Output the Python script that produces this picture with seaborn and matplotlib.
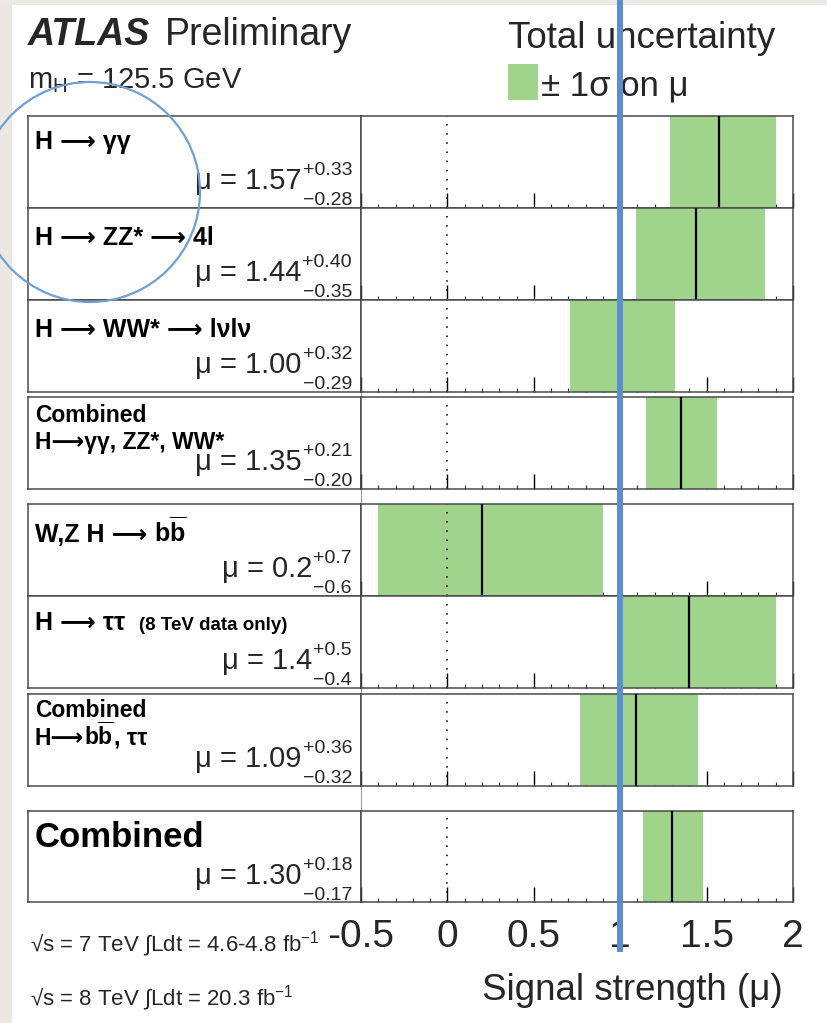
import numpy as np
import pandas as pd
import seaborn as sns
import matplotlib
matplotlib.use("Agg")
import matplotlib.pyplot as plt
from matplotlib.lines import Line2D
from matplotlib.patches import Rectangle, Circle

# ---- measurements: signal strength per channel ----
channels = ["H → γγ", "H → ZZ* → 4l", "H → WW* → lνlν", "Combined γγ ZZ WW",
            "W,Z H → bb", "H → ττ", "Combined bb ττ", "Combined"]
mu_val = [1.57, 1.44, 1.00, 1.35, 0.2, 1.4, 1.09, 1.30]
err_up = [0.33, 0.40, 0.32, 0.21, 0.7, 0.5, 0.36, 0.18]
err_dn = [0.28, 0.35, 0.29, 0.20, 0.6, 0.4, 0.32, 0.17]
n_dec = [2, 2, 2, 2, 1, 1, 2, 2]
xtick_vals = [-0.5, 0.0, 0.5, 1.0, 1.5, 2.0]
xtick_labels = ["-0.5", "0", "0.5", "1", "1.5", "2"]

sns.set_theme(style="white")
plt.rcParams["font.family"] = ["Liberation Sans", "DejaVu Sans"]
plt.rcParams["mathtext.fontset"] = "custom"
plt.rcParams["mathtext.rm"] = "Liberation Sans"
plt.rcParams["mathtext.bf"] = "Liberation Sans:bold"
plt.rcParams["mathtext.it"] = "Liberation Sans:italic"
plt.rcParams["mathtext.sf"] = "Liberation Sans"

W, H = 827, 1023
fig = plt.figure(figsize=(W / 100, H / 100), dpi=100, facecolor="white")
A = "⟶"
BBBAR = r"$\mathbf{b}\overline{\mathbf{b}}$"


def fx(px):
    return px / W


def fy(py):
    return 1 - py / H


renderer = fig.canvas.get_renderer()


def chain_text(x_px, y_px, parts, **kw):
    """Draw consecutive text pieces left to right on one baseline."""
    x = x_px
    for part in parts:
        t = fig.text(fx(x), fy(y_px), part, ha="left", va="baseline", **kw)
        x = t.get_window_extent(renderer).x1
    return x


# page edges
fig.add_artist(Rectangle((0, 0), fx(12), 1, transform=fig.transFigure,
                         color="#ebe8e2", lw=0, zorder=0))
fig.add_artist(Rectangle((0, fy(5)), 1, 1 - fy(5), transform=fig.transFigure,
                         color="#ebe9e5", lw=0, zorder=0))

BOX_L, SPLIT, PLOT_R = 28, 361, 793
panel_top = [116, 208, 300, 397, 504, 596, 694, 811]
panel_h = 92
SPINE = "#4a4a4a"
GREEN = "#a0d48c"

plot_axes = []
for i in range(len(mu_val)):
    top = panel_top[i]
    bot = top + panel_h if i < 7 else 902
    tax = fig.add_axes([fx(BOX_L), fy(bot), fx(SPLIT - BOX_L), (bot - top) / H])
    tax.set_xticks([]); tax.set_yticks([])
    for s in tax.spines.values():
        s.set_color(SPINE); s.set_linewidth(1.1)
    pax = fig.add_axes([fx(SPLIT), fy(bot), fx(PLOT_R - SPLIT), (bot - top) / H])
    for s in pax.spines.values():
        s.set_color(SPINE); s.set_linewidth(1.1)
    pax.set_facecolor("white")

    lo, hi = mu_val[i] - err_dn[i], mu_val[i] + err_up[i]
    pax.fill_betweenx([0, 1], lo, hi, color=GREEN, lw=0, zorder=1)
    line_df = pd.DataFrame({"mu": [mu_val[i], mu_val[i]], "y": [0.0, 1.0]})
    sns.lineplot(data=line_df, x="mu", y="y", orient="y", estimator=None,
                 color="black", lw=1.6, ax=pax, zorder=3)
    pax.axvline(0, color="black", lw=1.1, ls=(0, (1, 5)), zorder=2)
    pax.axvline(1, color="black", lw=1.1, ls=(0, (1, 5)), zorder=2)

    pax.set_xlim(-0.5, 2.0)
    pax.set_ylim(0, 1)
    pax.set_yticks([])
    pax.set_xticks(xtick_vals)
    pax.set_xticks(np.arange(-0.5, 2.001, 0.1), minor=True)
    pax.tick_params(axis="x", which="major", direction="in", length=11,
                    width=1.0, color="black", bottom=True, top=False)
    pax.tick_params(axis="x", which="minor", direction="in", length=3,
                    width=0.8, color="#333333", bottom=True, top=False)
    for t in pax.xaxis.get_major_ticks():
        if abs(t.get_loc() - 0.5) < 1e-9:
            t.tick1line.set_color("#b0b0b0")
    pax.set_xlabel(""); pax.set_ylabel("")
    if i == 7:
        pax.set_xticklabels(xtick_labels, fontsize=28)
        pax.tick_params(axis="x", which="major", pad=12)
    else:
        pax.set_xticklabels([])
    plot_axes.append(pax)

# faint divider between text boxes and plots
fig.add_artist(Line2D([fx(SPLIT), fx(SPLIT)], [fy(116), fy(902)],
                      transform=fig.transFigure, color="#9a9a9a", lw=0.8, zorder=0))

# ---- channel titles ----
TX = 35
bold = dict(fontweight="bold", color="black")
chain_text(TX, 116 + 33, [f"H {A} γγ"], fontsize=18, **bold)
chain_text(TX, 208 + 37, [f"H {A} ZZ* {A} 4l"], fontsize=18, **bold)
chain_text(TX, 300 + 37, [f"H {A} WW* {A} lνlν"], fontsize=18, **bold)
chain_text(TX, 397 + 25, ["Combined"], fontsize=16.5, **bold)
chain_text(TX, 397 + 52, [f"H{A}γγ, ZZ*, WW*"], fontsize=16.5, **bold)
chain_text(TX, 504 + 38, [f"W,Z H {A} ", BBBAR], fontsize=18, **bold)
x_tau = chain_text(TX, 596 + 34, [f"H {A} ττ"], fontsize=18, **bold)
chain_text(x_tau + 14, 596 + 34, ["(8 TeV data only)"], fontsize=13.5, **bold)
chain_text(TX, 694 + 23, ["Combined"], fontsize=16.5, **bold)
chain_text(TX, 694 + 51, [f"H{A}", BBBAR, ", ττ"], fontsize=16.5, **bold)
chain_text(TX, 811 + 36, ["Combined"], fontsize=25, **bold)

# ---- mu = value (+up / -down) ----
SUP_R = 352
for i in range(len(mu_val)):
    top = panel_top[i]
    up = fig.text(fx(SUP_R), fy(top + 59), f"+{err_up[i]:.{n_dec[i]}f}",
                  fontsize=14, ha="right", va="baseline")
    dn = fig.text(fx(SUP_R), fy(top + 89), f"−{err_dn[i]:.{n_dec[i]}f}",
                  fontsize=14, ha="right", va="baseline")
    left_px = min(up.get_window_extent(renderer).x0, dn.get_window_extent(renderer).x0)
    fig.text(left_px / W - fx(1), fy(top + 73),
             f"μ = {mu_val[i]:.{n_dec[i]}f}", fontsize=21, ha="right", va="baseline")

# ---- header ----
fig.text(fx(28), fy(45), "ATLAS", fontsize=27, fontweight="bold", fontstyle="italic",
         ha="left", va="baseline")
fig.text(fx(165), fy(45), "Preliminary", fontsize=27, ha="left", va="baseline")
fig.text(fx(28), fy(88), r"m$_{\mathregular{H}}$ = 125.5 GeV", fontsize=21,
         ha="left", va="baseline")
fig.text(fx(508), fy(48), "Total uncertainty", fontsize=26.5, ha="left", va="baseline")
fig.add_artist(Rectangle((fx(508), fy(100)), fx(30), 36 / H, transform=fig.transFigure,
                         color=GREEN, lw=0))
fig.text(fx(541), fy(96), "± 1σ on μ", fontsize=25, ha="left", va="baseline")

# ---- footer ----
fig.text(fx(30), fy(951), r"√s = 7 TeV ∫Ldt = 4.6-4.8 fb$^{\mathregular{-1}}$",
         fontsize=16, ha="left", va="baseline")
fig.text(fx(30), fy(1005), r"√s = 8 TeV ∫Ldt = 20.3 fb$^{\mathregular{-1}}$",
         fontsize=16, ha="left", va="baseline")
fig.text(fx(783), fy(1000), "Signal strength (μ)", fontsize=26.5, ha="right", va="baseline")

# ---- highlight: SM expectation line and circled channels ----
ax_last = plot_axes[-1]
x1_px = ax_last.transData.transform((1.0, 0.0))[0]
fig.add_artist(Line2D([x1_px / W, x1_px / W], [1.0, fy(952)], transform=fig.transFigure,
                      color="#5b8ecf", lw=4.3, solid_capstyle="butt", zorder=20))
fig.add_artist(Circle((0.90, (H - 192) / 100), 1.10, transform=fig.dpi_scale_trans,
                      fill=False, ec="#6f9fd3", lw=1.6, zorder=20))

fig.savefig("out.png", dpi=100, facecolor=fig.get_facecolor())
